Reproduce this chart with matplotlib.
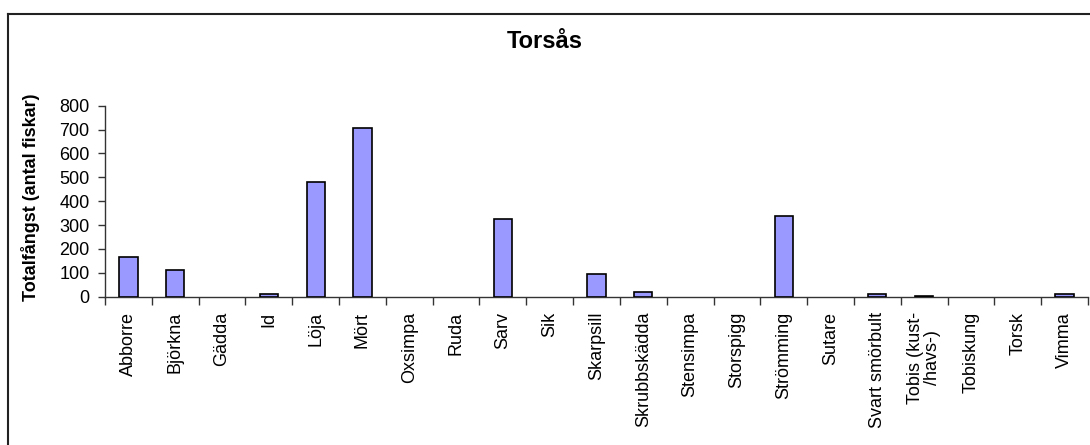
import matplotlib
matplotlib.use("Agg")
import matplotlib.pyplot as plt
from matplotlib.lines import Line2D
import numpy as np

plt.rcParams['font.family'] = ['Liberation Sans', 'DejaVu Sans']

arter = ["Abborre", "Björkna", "Gädda", "Id", "Löja", "Mört", "Oxsimpa", "Ruda",
         "Sarv", "Sik", "Skarpsill", "Skrubbskädda", "Stensimpa", "Storspigg",
         "Strömming", "Sutare", "Svart smörbult", "Tobis (kust-\n/havs-)",
         "Tobiskung", "Torsk", "Vimma"]
fangst = [168, 113, 0, 12, 480, 705, 0, 0, 325, 0, 95, 18, 0, 0, 337, 0, 11, 5, 0, 0, 11]
yticks = [0, 100, 200, 300, 400, 500, 600, 700, 800]

W, H = 1090, 445
fig = plt.figure(figsize=(W / 100, H / 100), dpi=100)

# outer chart frame (right/bottom edges cut off in the original)
fig.add_artist(Line2D([8 / W, 8 / W], [0, 1 - 14 / H], transform=fig.transFigure,
                      color="#222222", lw=1.5))
fig.add_artist(Line2D([8 / W, 1], [1 - 14 / H, 1 - 14 / H], transform=fig.transFigure,
                      color="#222222", lw=1.5))

ax = fig.add_axes([105 / W, 1 - 296.7 / H, 983 / W, 191 / H])

x = np.arange(len(arter))
# no outline for empty categories
lw = [1.2 if v > 0 else 0 for v in fangst]
ax.bar(x, fangst, width=0.39, color="#9999FF", edgecolor="black", linewidth=lw, zorder=3)

ax.set_xlim(-0.5, len(arter) - 0.5)
ax.set_ylim(0, 800)
ax.set_yticks(yticks)
ax.tick_params(axis="y", labelsize=13, length=5, width=1, pad=6, color="#333333")

# category boundaries as major ticks, names on minor ticks
ax.set_xticks(np.arange(len(arter) + 1) - 0.5)
ax.set_xticklabels([])
ax.set_xticks(x, minor=True)
ax.set_xticklabels(arter, minor=True, rotation=90, fontsize=13, va="top", ha="center",
                   linespacing=1.05)
ax.tick_params(axis="x", which="major", length=6, width=1, color="#333333")
ax.tick_params(axis="x", which="minor", length=0, pad=11)

for s in ["top", "right"]:
    ax.spines[s].set_visible(False)
for s in ["left", "bottom"]:
    ax.spines[s].set_color("#333333")
    ax.spines[s].set_linewidth(1)

ax.set_ylabel("Totalfångst (antal fiskar)", fontsize=13, fontweight="bold")
ax.yaxis.set_label_coords(-65 / 983, 0.52)

fig.text(545 / W, 1 - 42 / H, "Torsås", fontsize=17, fontweight="bold",
         ha="center", va="center")

fig.savefig("out.png", dpi=100)
